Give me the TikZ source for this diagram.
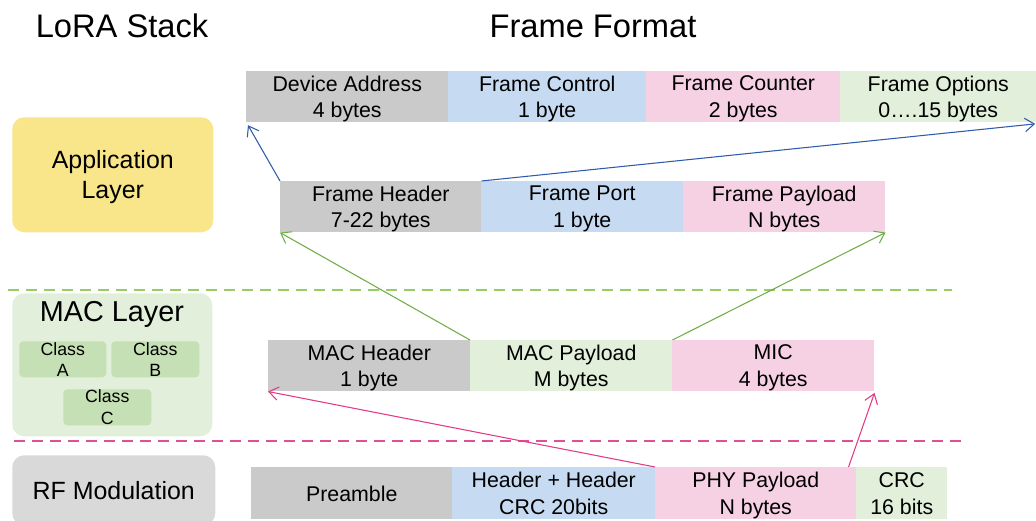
\documentclass[tikz,border=0pt]{standalone}
\usepackage{fontspec}
\setmainfont{Liberation Sans}
\usetikzlibrary{arrows.meta,calc}

\definecolor{cgray}{RGB}{202,202,202}
\definecolor{cblue}{RGB}{198,218,242}
\definecolor{cpink}{RGB}{245,209,227}
\definecolor{cgreen}{RGB}{226,239,218}
\definecolor{cyellow}{RGB}{249,229,138}
\definecolor{cclass}{RGB}{197,224,180}
\definecolor{crf}{RGB}{217,217,217}
\definecolor{abluec}{RGB}{46,92,172}
\definecolor{agreenc}{RGB}{112,173,71}
\definecolor{apinkc}{RGB}{226,58,134}
\definecolor{dgreenc}{RGB}{150,205,100}
\definecolor{dpinkc}{RGB}{222,80,152}

\begin{document}
\begin{tikzpicture}[x=0.75pt,y=-0.75pt,
  wd/.style={minimum width=#1*0.75pt},
  ht/.style={minimum height=#1*0.75pt},
  field/.style={anchor=north west, inner sep=0pt, align=center, text depth=0pt,
    font=\fontsize{16}{20}\selectfont},
  layer/.style={anchor=north west, inner sep=0pt, align=center, text depth=0pt,
    rounded corners=9pt},
  classbox/.style={anchor=north west, inner sep=0pt, align=center,
    rounded corners=3pt, fill=cclass, font=\fontsize{13.3}{16}\selectfont},
  title/.style={font=\fontsize{24.5}{28}\selectfont},
  conn/.style={-{Straight Barb[length=7pt,width=10pt]}, line width=0.8pt},
  sep/.style={line width=2.2pt, dash pattern=on 8pt off 5.5pt}
]
\path[use as bounding box] (0,0) rectangle (1036,521);
\clip (0,0) rectangle (1036,521);

% headings
\node[title] (stack) at (122,26) {LoRA Stack};
\node[title] (format) at (593,26) {Frame Format};

% layer stack
\node[layer, fill=cyellow, wd=201, ht=115,
  font=\fontsize{18.7}{22.5}\selectfont] (app) at (12,117) {Application\\Layer};
\node[layer, fill=cgreen, wd=200, ht=143] (mac) at (12,293) {};
\node[font=\fontsize{21.6}{26}\selectfont] (mactitle) at (112,314) {MAC Layer};
\node[classbox, wd=87, ht=36] (cla) at (19,341) {Class\\A};
\node[classbox, wd=88, ht=36] (clb) at (111,341) {Class\\B};
\node[classbox, wd=88, ht=36] (clc) at (63,389) {Class\\C};
\node[layer, fill=crf, wd=203, ht=70,
  font=\fontsize{18.7}{22.5}\selectfont] (rf) at (12,455) {RF Modulation};

% layer separators
\draw[sep, dgreenc] (8,290) -- (952,290);
\draw[sep, dpinkc] (14,441) -- (962,441);

% application payload fields
\node[field, fill=cgray,  wd=202, ht=51] (da)   at (246,71) {Device Address\\4 bytes};
\node[field, fill=cblue,  wd=198, ht=51] (fc)   at (448,71) {Frame Control\\1 byte};
\node[field, fill=cpink,  wd=194, ht=51] (fcnt) at (646,71) {Frame Counter\\2 bytes};
\node[field, fill=cgreen, wd=196, ht=51] (fo)   at (840,71) {Frame Options\\0….15 bytes};

% MAC payload fields
\node[field, fill=cgray, wd=201, ht=51] (fh)  at (280,181) {Frame Header\\7-22 bytes};
\node[field, fill=cblue, wd=202, ht=51] (fp)  at (481,181) {Frame Port\\1 byte};
\node[field, fill=cpink, wd=202, ht=51] (fpl) at (683,181) {Frame Payload\\N bytes};

% PHY payload fields
\node[field, fill=cgray,  wd=202, ht=51] (mh)  at (268,340) {MAC Header\\1 byte};
\node[field, fill=cgreen, wd=202, ht=51] (mp)  at (470,340) {MAC Payload\\M bytes};
\node[field, fill=cpink,  wd=202, ht=51] (mic) at (672,340) {MIC\\4 bytes};

% radio frame fields
\node[field, fill=cgray,  wd=201, ht=52] (pre) at (251,467) {Preamble};
\node[field, fill=cblue,  wd=203, ht=52] (hdr) at (452,467) {Header + Header\\CRC 20bits};
\node[field, fill=cpink,  wd=201, ht=52] (phy) at (655,467) {PHY Payload\\N bytes};
\node[field, fill=cgreen, wd=91,  ht=52] (crc) at (856,467) {CRC\\16 bits};

% expansion arrows
\draw[conn, abluec] (fh.north west) -- ([xshift=1.5pt,yshift=-2pt]da.south west);
\draw[conn, abluec] (fh.north east) -- ([xshift=-1pt,yshift=-1pt]fo.south east);
\draw[conn, agreenc] (mp.north west) -- (fh.south west);
\draw[conn, agreenc] (mp.north east) -- (fpl.south east);
\draw[conn, apinkc] (phy.north west) -- (mh.south west);
\coordinate (phyout) at ($(phy.north east)+(-8,0)$);
\draw[conn, apinkc] (phyout) -- ([yshift=-1pt]mic.south east);
\end{tikzpicture}
\end{document}
